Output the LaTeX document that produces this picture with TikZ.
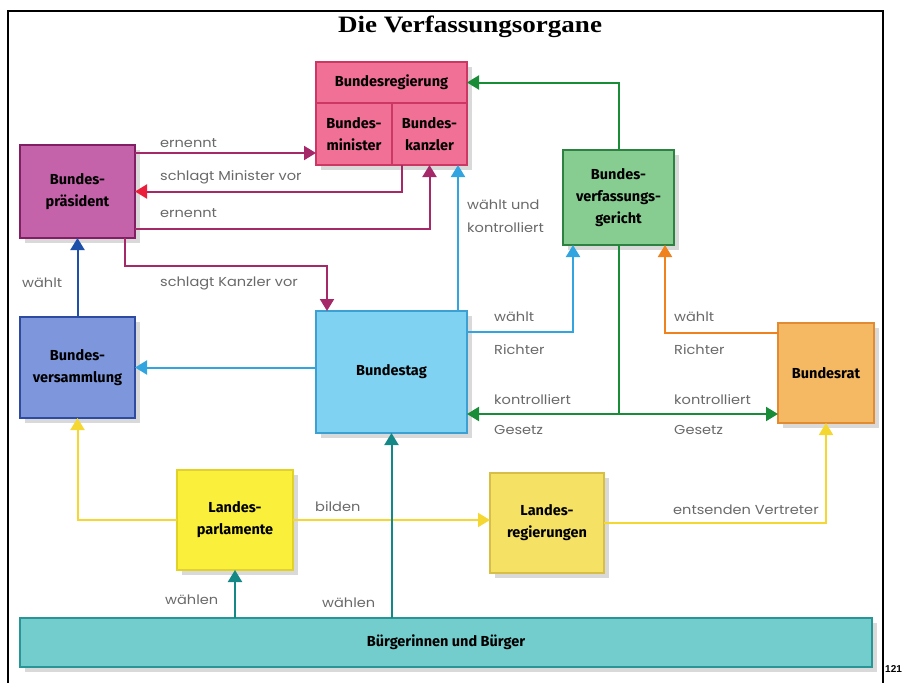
\documentclass[tikz,border=0pt]{standalone}
\usepackage{fontspec}
\usepackage{tikz}
\usetikzlibrary{arrows.meta,shadows}
\newfontfamily\organfont{Fira Sans}
\newfontfamily\notefont[FakeStretch=1.12]{Poppins}
\newfontfamily\titlefont[FakeStretch=1.15]{Liberation Serif}
\newfontfamily\pagefont{Liberation Sans}
\definecolor{regfill}{RGB}{240,112,150}
\definecolor{regline}{RGB}{205,55,100}
\definecolor{praesfill}{RGB}{196,98,170}
\definecolor{praesline}{RGB}{130,30,100}
\definecolor{versfill}{RGB}{125,150,220}
\definecolor{versline}{RGB}{45,75,160}
\definecolor{tagfill}{RGB}{128,210,242}
\definecolor{tagline}{RGB}{60,160,210}
\definecolor{gerichtfill}{RGB}{135,205,145}
\definecolor{gerichtline}{RGB}{45,130,65}
\definecolor{ratfill}{RGB}{245,185,100}
\definecolor{ratline}{RGB}{225,140,50}
\definecolor{parlfill}{RGB}{250,240,60}
\definecolor{parlline}{RGB}{225,210,40}
\definecolor{lregfill}{RGB}{245,225,100}
\definecolor{lregline}{RGB}{215,190,70}
\definecolor{volkfill}{RGB}{115,205,205}
\definecolor{volkline}{RGB}{40,150,150}
\definecolor{purplearr}{RGB}{165,40,105}
\definecolor{redarr}{RGB}{235,30,60}
\definecolor{darkblue}{RGB}{30,80,170}
\definecolor{lightblue}{RGB}{50,165,225}
\definecolor{greenarr}{RGB}{25,140,55}
\definecolor{orangearr}{RGB}{240,130,30}
\definecolor{yellowarr}{RGB}{245,215,50}
\definecolor{tealarr}{RGB}{20,135,135}
\definecolor{notegray}{RGB}{105,105,105}

\begin{document}
\begin{tikzpicture}[x=1pt, y=-1pt,
		organ/.style={draw, line width=1.2pt, inner sep=0pt, outer sep=0pt, align=center,
			font=\organfont\bfseries\fontsize{14.5}{22}\selectfont,
			drop shadow={shadow xshift=5pt, shadow yshift=-5pt, opacity=0.3}},
		note/.style={text=notegray, font=\notefont\fontsize{13}{15}\selectfont, inner sep=0pt, anchor=west},
		conn/.style={line width=2pt, -{Triangle[width=14pt,length=12pt]}}]
	\useasboundingbox (0,0) rectangle (903,683);
	\draw[line width=2pt] (8,683) -- (8,11) -- (883,11) -- (883,683);
	\node (titel) at (470,27) {\titlefont\bfseries\fontsize{23.5}{26}\selectfont Die Verfassungsorgane};
	\node[anchor=west, inner sep=0pt, font=\pagefont\bfseries\fontsize{10}{12}\selectfont] (seite) at (885,669) {121};
	% organe
	\node[organ, fill=regfill, draw=regline, minimum width=151pt, minimum height=41pt] (breg) at (391.5,82.5) {Bundesregierung};
	\node[organ, fill=regfill, draw=regline, minimum width=76pt, minimum height=62pt] (bmin) at (354,134) {Bundes-\\minister};
	\node[organ, fill=regfill, draw=regline, minimum width=75pt, minimum height=62pt] (bkanz) at (429.5,134) {Bundes-\\kanzler};
	\node[organ, fill=praesfill, draw=praesline, minimum width=115pt, minimum height=93pt] (praes) at (77.5,191.5) {Bundes-\\präsident};
	\node[organ, fill=versfill, draw=versline, minimum width=115pt, minimum height=101pt] (bvers) at (77.5,367.5) {Bundes-\\versammlung};
	\node[organ, fill=tagfill, draw=tagline, minimum width=151pt, minimum height=122pt] (btag) at (391.5,372) {Bundestag};
	\node[organ, fill=gerichtfill, draw=gerichtline, minimum width=111pt, minimum height=95pt] (bverfg) at (618.5,197.5) {Bundes-\\verfassungs-\\gericht};
	\node[organ, fill=ratfill, draw=ratline, minimum width=96pt, minimum height=100pt] (brat) at (826,373) {Bundesrat};
	\node[organ, fill=parlfill, draw=parlline, minimum width=116pt, minimum height=100pt] (lparl) at (235,520) {Landes-\\parlamente};
	\node[organ, fill=lregfill, draw=lregline, minimum width=114pt, minimum height=100pt] (lreg) at (547,523) {Landes-\\regierungen};
	\node[organ, fill=volkfill, draw=volkline, minimum width=852pt, minimum height=49pt] (buerger) at (446,642.5) {Bürgerinnen und Bürger};
	% verbindungen
	\draw[conn, purplearr] ([yshift=-8pt]praes.north east) coordinate (e1) -- (e1 -| bmin.west);
	\draw[conn, purplearr, -{Triangle[width=14pt,length=12pt,color=redarr]}] ([xshift=-28pt]bkanz.south) |- (praes.east);
	\draw[conn, purplearr] ([yshift=9pt]praes.south east) -| (bkanz.south);
	\draw[conn, purplearr] ([xshift=-10pt]praes.south east) -- ++(0,28) -| ([xshift=11pt]btag.north west);
	\draw[conn, darkblue] (bvers.north) -- (praes.south);
	\draw[conn, lightblue] (bvers.east -| btag.west) -- (bvers.east);
	\draw[conn, lightblue] ([xshift=-9pt]btag.north east) coordinate (k1) -- (k1 |- bkanz.south);
	\draw[conn, greenarr] (bverfg.north) |- (breg.east);
	\draw[conn, lightblue] ([yshift=-21pt]btag.north east) -| ([xshift=10pt]bverfg.south west);
	\draw[conn, orangearr] ([yshift=-10pt]brat.north west) -| ([xshift=-9pt]bverfg.south east);
	\coordinate (gesetz) at (618.5,414);
	\draw[line width=2pt, greenarr] (bverfg.south) -- (gesetz);
	\draw[conn, greenarr] (gesetz) -- (gesetz -| btag.east);
	\draw[conn, greenarr] (gesetz) -- (gesetz -| brat.west);
	\draw[conn, yellowarr] (lparl.west) -| (bvers.south);
	\draw[conn, yellowarr] (lparl.east) -- (lparl.east -| lreg.west);
	\draw[conn, yellowarr] (lreg.east) -| (brat.south);
	\draw[conn, tealarr] (buerger.north -| lparl.south) -- (lparl.south);
	\draw[conn, tealarr] (buerger.north -| btag.south) -- (btag.south);
	% beschriftungen
	\node[note] at (160,143) {ernennt};
	\node[note] at (160,177) {schlagt Minister vor};
	\node[note] at (160,213) {ernennt};
	\node[note] at (160,283) {schlagt Kanzler vor};
	\node[note] at (22,283) {wählt};
	\node[note, align=left, font=\notefont\fontsize{13}{23}\selectfont] at (467,216.5) {wählt und\\kontrolliert};
	\node[note] at (494,317) {wählt};
	\node[note] at (494,350) {Richter};
	\node[note] at (674,317) {wählt};
	\node[note] at (674,350) {Richter};
	\node[note] at (494,400) {kontrolliert};
	\node[note] at (494,430) {Gesetz};
	\node[note] at (674,400) {kontrolliert};
	\node[note] at (674,430) {Gesetz};
	\node[note] at (315,507) {bilden};
	\node[note] at (673,510) {entsenden Vertreter};
	\node[note] at (165,600) {wählen};
	\node[note] at (322,603) {wählen};
\end{tikzpicture}
\end{document}
